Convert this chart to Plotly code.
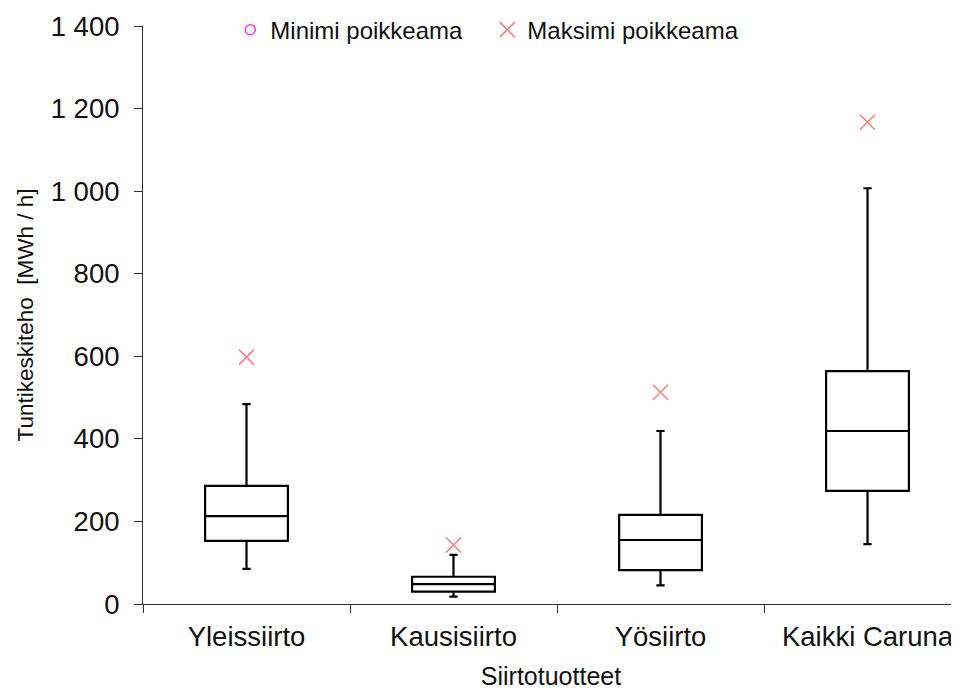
import plotly.graph_objects as go

categories = ["Yleissiirto", "Kausisiirto", "Yösiirto", "Kaikki Caruna"]
lower_whisker = [85, 18, 45, 145]
q1_values = [153, 30, 82, 274]
median_values = [213, 48, 155, 419]
q3_values = [286, 66, 216, 564]
upper_whisker = [484, 119, 419, 1007]
max_deviation = [598, 143, 513, 1167]
min_deviation = [None, None, None, None]  # no visible markers in the reference
y_tick_values = [0, 200, 400, 600, 800, 1000, 1200, 1400]
y_tick_labels = ["0", "200", "400", "600", "800", "1 000", "1 200", "1 400"]

FONT = "Liberation Sans, Arial, sans-serif"

fig = go.Figure()

fig.add_trace(go.Box(
    x=categories,
    q1=q1_values,
    median=median_values,
    q3=q3_values,
    lowerfence=lower_whisker,
    upperfence=upper_whisker,
    width=0.4,
    whiskerwidth=0.1,
    line=dict(color="black", width=2.2),
    fillcolor="rgba(255,255,255,0)",
    boxpoints=False,
    showlegend=False,
    hoverinfo="skip",
))

fig.add_trace(go.Scatter(
    x=categories,
    y=min_deviation,
    mode="markers",
    name="Minimi poikkeama",
    marker=dict(symbol="circle-open", color="#FF33FF", size=10, line=dict(width=1.5)),
))

fig.add_trace(go.Scatter(
    x=categories,
    y=max_deviation,
    mode="markers",
    name="Maksimi poikkeama",
    marker=dict(symbol="x-thin", color="#FF7F7F", size=15, line=dict(width=1.6, color="#FF7F7F")),
))

# the page body has an 8px margin, so the figure is sized/offset to compensate
fig.update_layout(
    width=951,
    height=682,
    margin=dict(l=135, r=0, t=18, b=86, autoexpand=False),
    paper_bgcolor="white",
    plot_bgcolor="white",
    font=dict(family=FONT, color="black"),
    legend=dict(
        orientation="h",
        x=0.107,
        xanchor="left",
        y=0.993,
        yanchor="middle",
        font=dict(size=24, family=FONT, color="#111111"),
        bgcolor="rgba(0,0,0,0)",
        entrywidth=212,
        entrywidthmode="pixels",
        itemwidth=30,
    ),
    xaxis=dict(
        type="category",
        categoryorder="array",
        categoryarray=categories,
        range=[-0.5, 3.442],
        showgrid=False,
        showline=True,
        linecolor="#333333",
        linewidth=1,
        ticks="outside",
        tickson="boundaries",
        ticklen=8,
        tickcolor="#333333",
        tickfont=dict(size=27.5, family=FONT, color="#111111"),
        ticklabelstandoff=8,
        title=dict(text="Siirtotuotteet", font=dict(size=25, family=FONT, color="#111111"), standoff=20),
        zeroline=False,
        automargin=False,
    ),
    yaxis=dict(
        range=[0, 1400],
        tickmode="array",
        tickvals=y_tick_values,
        ticktext=y_tick_labels,
        showgrid=False,
        showline=True,
        linecolor="#333333",
        linewidth=1,
        ticks="outside",
        ticklen=8,
        tickcolor="#333333",
        tickfont=dict(size=27.5, family=FONT, color="#111111"),
        ticklabelstandoff=9,
        title=dict(text="Tuntikeskiteho  [MWh / h]", font=dict(size=22.5, family=FONT, color="#111111"), standoff=10),
        zeroline=False,
        automargin=False,
    ),
)

fig.write_html("out.html")
